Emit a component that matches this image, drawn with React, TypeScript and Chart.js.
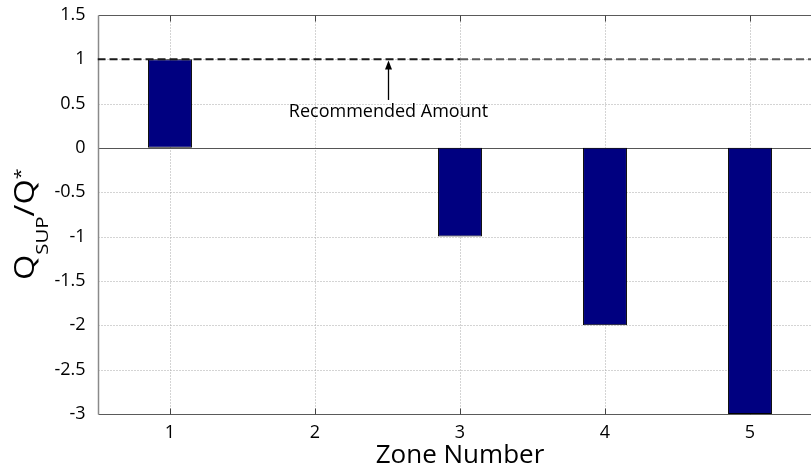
import React, { useEffect, useRef } from "react";
import { Chart, registerables } from "chart.js";

Chart.register(...registerables);

const zones = [1, 2, 3, 4, 5];
const xTickLabels = ["1", "2", "3", "4", "5"];
const ratioValues = [1, 0, -1, -2, -3];
const yTicks = [-3, -2.5, -2, -1.5, -1, -0.5, 0, 0.5, 1, 1.5];
const yTickLabels = ["-3", "-2.5", "-2", "-1.5", "-1", "-0.5", "0", "0.5", "1", "1.5"];
const recommendedLevel = 1;
const recommendedDarkSpan = [0.5, 3];
const recommendedLightSpan = [3, 5.5];
const annotationText = "Recommended Amount";
const annotationX = 2.5;
const arrowTail = 0.54;
const arrowHead = 0.985;
const annotationY = 0.41;
const xTitle = "Zone Number";

const FONT = "'Open Sans', sans-serif";

const decorPlugin = {
  id: "decor",
  beforeDatasetsDraw(chart: any) {
    const { ctx, chartArea: a, scales } = chart;
    const xs = scales.x;
    const ys = scales.y;
    const L = Math.round(a.left) + 0.5;
    const R = Math.round(a.right) + 0.5;
    const T = Math.round(a.top) + 0.5;
    const B = Math.round(a.bottom) + 0.5;
    ctx.save();
    // dotted grid
    ctx.strokeStyle = "#a8a8a8";
    ctx.lineWidth = 1;
    ctx.setLineDash([1, 2]);
    zones.forEach((z) => {
      const px = Math.round(xs.getPixelForValue(z)) + 0.5;
      ctx.beginPath();
      ctx.moveTo(px, T);
      ctx.lineTo(px, B);
      ctx.stroke();
    });
    yTicks.forEach((v) => {
      if (v === yTicks[0] || v === yTicks[yTicks.length - 1]) return;
      const py = Math.round(ys.getPixelForValue(v)) + 0.5;
      ctx.beginPath();
      ctx.moveTo(L, py);
      ctx.lineTo(R, py);
      ctx.stroke();
    });
    ctx.setLineDash([]);
    // zero baseline
    ctx.strokeStyle = "#555555";
    const zy = Math.round(ys.getPixelForValue(0)) + 0.5;
    ctx.beginPath();
    ctx.moveTo(L, zy);
    ctx.lineTo(R, zy);
    ctx.stroke();
    // frame
    ctx.strokeStyle = "#5a5a5a";
    ctx.beginPath();
    ctx.moveTo(L, T);
    ctx.lineTo(R, T);
    ctx.moveTo(L, B);
    ctx.lineTo(R, B);
    ctx.stroke();
    ctx.strokeStyle = "#8a8a8a";
    ctx.lineWidth = 1.5;
    ctx.beginPath();
    ctx.moveTo(L, T);
    ctx.lineTo(L, B);
    ctx.stroke();
    // x tick marks (inward)
    ctx.strokeStyle = "#444444";
    ctx.lineWidth = 1;
    zones.forEach((z) => {
      const px = Math.round(xs.getPixelForValue(z)) + 0.5;
      ctx.beginPath();
      ctx.moveTo(px, B);
      ctx.lineTo(px, B - 6);
      ctx.moveTo(px, T);
      ctx.lineTo(px, T + 6);
      ctx.stroke();
    });
    ctx.restore();
  },
  afterDatasetsDraw(chart: any) {
    const { ctx, scales } = chart;
    const xs = scales.x;
    const ys = scales.y;
    ctx.save();
    // arrow
    const ax = Math.round(xs.getPixelForValue(annotationX)) + 0.5;
    const tailY = ys.getPixelForValue(arrowTail);
    const headY = ys.getPixelForValue(arrowHead);
    ctx.strokeStyle = "#000";
    ctx.fillStyle = "#000";
    ctx.lineWidth = 1.3;
    ctx.beginPath();
    ctx.moveTo(ax, tailY);
    ctx.lineTo(ax, headY + 6);
    ctx.stroke();
    ctx.beginPath();
    ctx.moveTo(ax, headY);
    ctx.lineTo(ax - 3.5, headY + 9);
    ctx.lineTo(ax + 3.5, headY + 9);
    ctx.closePath();
    ctx.fill();
    // annotation text
    ctx.font = `18px ${FONT}`;
    ctx.textAlign = "center";
    ctx.textBaseline = "middle";
    ctx.fillText(annotationText, ax, ys.getPixelForValue(annotationY));
    // y title: Q_SUP / Q*
    ctx.translate(34, 280);
    ctx.rotate(-Math.PI / 2);
    ctx.scale(1.2, 1);
    ctx.textAlign = "left";
    ctx.textBaseline = "alphabetic";
    let cx = 0;
    ctx.font = `27px ${FONT}`;
    ctx.fillText("Q", cx, 0);
    cx += ctx.measureText("Q").width;
    ctx.font = `17px ${FONT}`;
    ctx.fillText("SUP", cx, 14);
    cx += ctx.measureText("SUP").width;
    ctx.font = `27px ${FONT}`;
    ctx.fillText("/Q", cx, 0);
    cx += ctx.measureText("/Q").width;
    ctx.font = `17px ${FONT}`;
    ctx.fillText("*", cx, -8);
    ctx.restore();
  },
};

export default function App() {
  const canvasRef = useRef<HTMLCanvasElement | null>(null);

  useEffect(() => {
    if (!canvasRef.current) return;
    Chart.defaults.font.family = FONT;
    const chart = new Chart(canvasRef.current, {
      type: "bar",
      data: {
        datasets: [
          {
            type: "bar",
            data: zones.map((z, i) => ({ x: z, y: ratioValues[i] })),
            backgroundColor: "#000080",
            borderColor: "#000000",
            borderWidth: (c: any) => (c.raw && c.raw.y === 0 ? 0 : 1),
            borderSkipped: false,
            categoryPercentage: 1,
            barPercentage: 0.303,
            order: 2,
          } as any,
          {
            type: "line",
            data: recommendedDarkSpan.map((x) => ({ x, y: recommendedLevel })),
            borderColor: "#1a1a1a",
            borderWidth: 2,
            borderDash: [8, 4],
            pointRadius: 0,
            order: 1,
          } as any,
          {
            type: "line",
            data: recommendedLightSpan.map((x) => ({ x, y: recommendedLevel })),
            borderColor: "#5a5a5a",
            borderWidth: 2,
            borderDash: [8, 4],
            pointRadius: 0,
            order: 1,
          } as any,
        ],
      },
      options: {
        animation: false,
        responsive: false,
        devicePixelRatio: 1,
        layout: { padding: { top: 14, right: 17.5, left: 0, bottom: 0 } },
        plugins: {
          legend: { display: false },
          tooltip: { enabled: false },
        },
        scales: {
          x: {
            type: "linear",
            min: 0.5,
            max: 5.5,
            offset: false,
            grid: { display: false },
            border: { display: false },
            afterBuildTicks: (s: any) => {
              s.ticks = zones.map((v) => ({ value: v }));
            },
            afterFit: (s: any) => {
              s.height = 57;
            },
            ticks: {
              color: "#000",
              font: { size: 18, family: FONT },
              padding: 0,
              maxRotation: 0,
              autoSkip: false,
              callback: (v: any) => xTickLabels[zones.indexOf(Number(v))] ?? "",
            },
            title: {
              display: true,
              text: xTitle,
              color: "#000",
              font: { size: 26, family: FONT },
              padding: 0,
            },
          },
          y: {
            type: "linear",
            min: -3,
            max: 1.5,
            grid: { display: false },
            border: { display: false },
            afterBuildTicks: (s: any) => {
              s.ticks = yTicks.map((v) => ({ value: v }));
            },
            afterFit: (s: any) => {
              s.width = 97.5;
            },
            ticks: {
              color: "#000",
              font: { size: 18, family: FONT },
              padding: 4,
              autoSkip: false,
              callback: (v: any) => yTickLabels[yTicks.indexOf(Number(v))] ?? "",
            },
          },
        },
      } as any,
      plugins: [decorPlugin],
    });
    return () => chart.destroy();
  }, []);

  return (
    <div
      style={{
        position: "fixed",
        left: 0,
        top: 0,
        width: 811,
        height: 471,
        overflow: "hidden",
        background: "#fff",
      }}
    >
      <canvas ref={canvasRef} width={840} height={471} style={{ display: "block" }} />
    </div>
  );
}
